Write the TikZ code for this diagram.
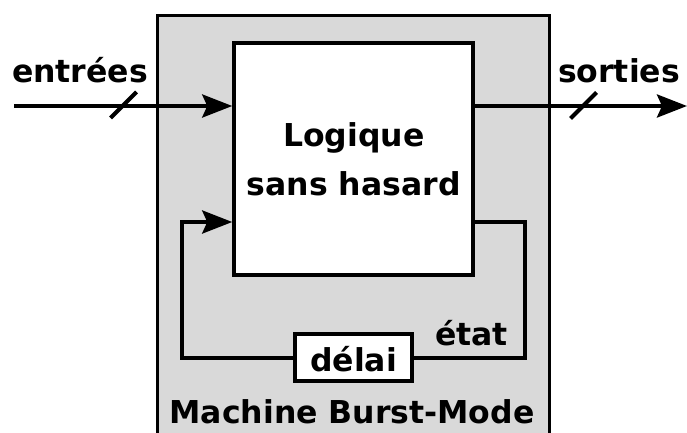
\documentclass[tikz,border=0pt]{standalone}
\usepackage{fontspec}
\setmainfont{DejaVu Sans}
\usetikzlibrary{arrows.meta,positioning,calc}
\definecolor{machineGray}{HTML}{D9D9D9}
\tikzset{
  boxNode/.style = {draw=black, line width=4pt, inner sep=0pt, align=center,
    font=\fontsize{31.5}{49}\selectfont\bfseries},
  logicNode/.style = {boxNode, fill=white, minimum width=239pt, minimum height=232pt},% bloc logique
  delayNode/.style = {boxNode, fill=white, minimum width=117pt, minimum height=47pt},% retard
  machineNode/.style = {boxNode, fill=machineGray, line width=3.5pt, minimum width=392pt, minimum height=440pt},
  labelNode/.style = {inner sep=0pt, font=\fontsize{31.5}{38}\selectfont\bfseries, anchor=base},
  wire/.style = {line width=4pt, -{Stealth[length=30pt,width=23pt,inset=5pt]}},
  plainWire/.style = {line width=4pt},
  busMark/.style = {line width=4pt},
}

\begin{document}
\begin{tikzpicture}[x=1pt,y=-1pt]
\useasboundingbox (0,0) rectangle (687,433);
\node [machineNode, anchor=north] (machine) at (353.5,14) {};
\node [logicNode] (logic) at (353.75,159) {Logique\\sans hasard};
\node [delayNode] (delay) at (353.5,357.5) {};
\node [labelNode] at (353.5,371) {d\'elai};
\node [labelNode] (state) at (471.5,345) {\'etat};
\node [labelNode] (title) at (352,423) {Machine Burst-Mode};

% entrees / sorties
\coordinate (in) at (14,106);
\coordinate (out) at (687,106);
\node [labelNode] (inLabel) at (80,83) {entr\'ees};
\node [labelNode] (outLabel) at (619,83) {sorties};
\draw [wire] (in) -- (in -| logic.west);
\draw [wire] (logic.east |- out) -- (out);
\coordinate (inBus) at (123.5,105);
\coordinate (outBus) at (583.5,105.5);
\draw [busMark] ($(inBus)+(-13,13)$) -- ($(inBus)+(13,-13)$);
\draw [busMark] ($(outBus)+(-13,13)$) -- ($(outBus)+(13,-13)$);

% boucle d'etat
\coordinate (loopRight) at (525,222);
\coordinate (loopLeft) at (182,222);
\draw [plainWire] (logic.east |- loopRight) -- (loopRight) |- (delay.east);
\draw [wire] (delay.west) -| (loopLeft) -- (loopLeft -| logic.west);
\end{tikzpicture}
\end{document}
